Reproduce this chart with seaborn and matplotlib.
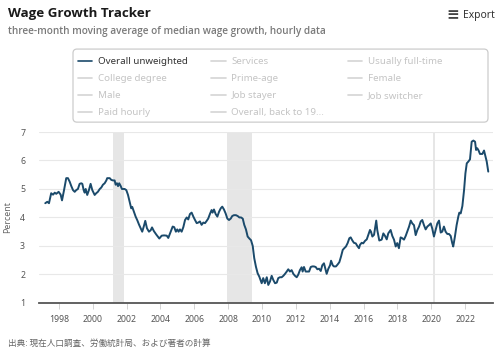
import numpy as np
import pandas as pd
import matplotlib
matplotlib.use("Agg")
import matplotlib.pyplot as plt
from matplotlib.lines import Line2D
from matplotlib.patches import FancyBboxPatch
import seaborn as sns

sns.set_theme(style="white")
plt.rcParams["font.family"] = ["Noto Sans", "DejaVu Sans"]

# three-month moving average of median wage growth (percent)
dates = [
    1997.19, 1997.31, 1997.41, 1997.54, 1997.65, 1997.75, 1997.84, 1997.98,
    1998.10, 1998.18, 1998.30, 1998.43, 1998.53, 1998.63, 1998.73, 1998.83,
    1998.93, 1999.02, 1999.12, 1999.22, 1999.32, 1999.38, 1999.46, 1999.52,
    1999.58, 1999.67, 1999.77, 1999.87, 1999.97, 2000.11, 2000.20, 2000.30,
    2000.41, 2000.50, 2000.60, 2000.70, 2000.80, 2000.85, 2001.00, 2001.09,
    2001.19, 2001.29, 2001.35, 2001.43, 2001.49, 2001.56, 2001.65, 2001.72,
    2001.88, 2001.98, 2002.08, 2002.18, 2002.27, 2002.33, 2002.43, 2002.53,
    2002.63, 2002.73, 2002.83, 2002.92, 2003.02, 2003.10, 2003.20, 2003.32,
    2003.42, 2003.50, 2003.61, 2003.75, 2003.93, 2004.07, 2004.21, 2004.37,
    2004.46, 2004.60, 2004.72, 2004.81, 2004.91, 2004.99, 2005.07, 2005.15,
    2005.25, 2005.35, 2005.45, 2005.55, 2005.64, 2005.74, 2005.84, 2005.94,
    2006.04, 2006.14, 2006.23, 2006.33, 2006.43, 2006.53, 2006.63, 2006.73,
    2006.82, 2006.92, 2007.02, 2007.08, 2007.16, 2007.26, 2007.36, 2007.46,
    2007.56, 2007.65, 2007.75, 2007.85, 2007.95, 2008.05, 2008.15, 2008.24,
    2008.34, 2008.46, 2008.56, 2008.66, 2008.76, 2008.86, 2008.95, 2009.05,
    2009.15, 2009.25, 2009.35, 2009.45, 2009.54, 2009.64, 2009.74, 2009.84,
    2009.98, 2010.07, 2010.17, 2010.28, 2010.37, 2010.47, 2010.57, 2010.67,
    2010.77, 2010.87, 2010.96, 2011.06, 2011.16, 2011.26, 2011.36, 2011.46,
    2011.55, 2011.65, 2011.75, 2011.85, 2011.95, 2012.05, 2012.14, 2012.24,
    2012.34, 2012.40, 2012.48, 2012.58, 2012.67, 2012.78, 2012.88, 2012.97,
    2013.07, 2013.17, 2013.27, 2013.37, 2013.47, 2013.56, 2013.66, 2013.76,
    2013.82, 2013.92, 2014.02, 2014.08, 2014.18, 2014.25, 2014.37, 2014.47,
    2014.57, 2014.67, 2014.77, 2014.86, 2014.96, 2015.06, 2015.16, 2015.24,
    2015.33, 2015.43, 2015.54, 2015.63, 2015.73, 2015.79, 2015.89, 2015.98,
    2016.09, 2016.19, 2016.28, 2016.38, 2016.44, 2016.52, 2016.62, 2016.75,
    2016.81, 2016.93, 2017.07, 2017.17, 2017.27, 2017.37, 2017.46, 2017.60,
    2017.70, 2017.80, 2017.90, 2017.99, 2018.09, 2018.19, 2018.29, 2018.39,
    2018.49, 2018.58, 2018.69, 2018.79, 2018.88, 2018.98, 2019.08, 2019.18,
    2019.28, 2019.38, 2019.47, 2019.57, 2019.67, 2019.77, 2019.87, 2019.97,
    2020.06, 2020.16, 2020.26, 2020.36, 2020.46, 2020.56, 2020.65, 2020.75,
    2020.85, 2020.95, 2021.05, 2021.15, 2021.24, 2021.30, 2021.40, 2021.50,
    2021.60, 2021.66, 2021.74, 2021.84, 2021.94, 2022.02, 2022.10, 2022.19,
    2022.29, 2022.39, 2022.49, 2022.59, 2022.65, 2022.72, 2022.80, 2022.88,
    2023.02, 2023.12, 2023.20, 2023.28, 2023.37,
]
wage_growth = [
    4.50, 4.55, 4.50, 4.85, 4.80, 4.87, 4.83, 4.90,
    4.80, 4.60, 4.96, 5.38, 5.38, 5.26, 5.10, 4.96,
    4.90, 4.96, 5.00, 5.18, 5.20, 5.18, 4.96, 4.87,
    5.00, 4.79, 4.96, 5.18, 4.96, 4.79, 4.85, 4.90,
    5.00, 5.05, 5.15, 5.20, 5.30, 5.38, 5.38, 5.32,
    5.30, 5.30, 5.15, 5.20, 5.10, 5.20, 5.10, 5.00,
    5.00, 4.96, 4.79, 4.55, 4.32, 4.37, 4.20, 4.03,
    3.90, 3.75, 3.62, 3.50, 3.70, 3.88, 3.62, 3.50,
    3.55, 3.65, 3.52, 3.40, 3.26, 3.36, 3.37, 3.36,
    3.28, 3.50, 3.68, 3.66, 3.50, 3.58, 3.50, 3.58,
    3.50, 3.66, 3.91, 4.00, 3.93, 4.12, 4.17, 4.03,
    3.91, 3.80, 3.82, 3.86, 3.74, 3.82, 3.80, 3.88,
    3.96, 4.12, 4.26, 4.17, 4.28, 4.12, 4.03, 4.20,
    4.32, 4.38, 4.28, 4.14, 3.96, 3.91, 3.96, 4.05,
    4.08, 4.08, 4.05, 4.00, 4.00, 3.96, 3.74, 3.58,
    3.33, 3.26, 3.20, 3.00, 2.57, 2.27, 2.04, 1.92,
    1.69, 1.87, 1.69, 1.90, 1.63, 1.75, 1.95, 1.80,
    1.69, 1.71, 1.87, 1.90, 1.90, 1.95, 2.02, 2.10,
    2.18, 2.10, 2.15, 2.02, 1.95, 1.90, 1.99, 2.15,
    2.25, 2.10, 2.26, 2.10, 2.10, 2.10, 2.26, 2.28,
    2.28, 2.26, 2.18, 2.20, 2.12, 2.32, 2.39, 2.15,
    2.02, 2.20, 2.32, 2.48, 2.32, 2.28, 2.28, 2.35,
    2.43, 2.63, 2.86, 2.92, 2.98, 3.10, 3.27, 3.30,
    3.20, 3.11, 3.09, 3.00, 2.92, 3.04, 3.11, 3.09,
    3.18, 3.23, 3.39, 3.56, 3.50, 3.33, 3.39, 3.89,
    3.56, 3.19, 3.22, 3.44, 3.35, 3.23, 3.44, 3.56,
    3.35, 3.22, 2.98, 3.10, 2.92, 3.30, 3.27, 3.22,
    3.35, 3.50, 3.68, 3.89, 3.79, 3.73, 3.38, 3.56,
    3.68, 3.86, 3.91, 3.73, 3.58, 3.68, 3.73, 3.79,
    3.61, 3.33, 3.56, 3.79, 3.89, 3.47, 3.50, 3.68,
    3.50, 3.42, 3.42, 3.35, 3.10, 2.98, 3.33, 3.73,
    4.03, 4.17, 4.14, 4.40, 4.96, 5.55, 5.90, 5.96,
    6.04, 6.66, 6.70, 6.66, 6.37, 6.43, 6.35, 6.23,
    6.23, 6.35, 6.16, 5.96, 5.61,
]

# recessions (shaded)
recession_start = [2001.17, 2007.92, 2020.08]
recession_end = [2001.83, 2009.42, 2020.25]

year_ticks = list(range(1998, 2023, 2))
y_ticks = [1, 2, 3, 4, 5, 6, 7]

legend_labels = ["Overall unweighted", "Services", "Usually full-time",
                 "College degree", "Prime-age", "Female",
                 "Male", "Job stayer", "Job switcher",
                 "Paid hourly", "Overall, back to 19..."]

df = pd.DataFrame({"date": dates, "wage_growth": wage_growth})

line_color = "#1b4a6b"
fig = plt.figure(figsize=(5, 3.53), dpi=100)
ax = fig.add_axes([0.078, 0.142, 0.908, 0.484])

for s, e in zip(recession_start, recession_end):
    ax.axvspan(s, e, color="#e6e6e6", lw=0, zorder=0)

sns.lineplot(data=df, x="date", y="wage_growth", ax=ax, color=line_color,
             lw=1.4, zorder=3)

ax.set_xlim(1996.82, 2023.65)
ax.set_ylim(1, 7)
ax.set_xticks(year_ticks)
ax.set_xticklabels([str(y) for y in year_ticks])
ax.set_yticks(y_ticks)
ax.yaxis.grid(True, color="#e8e8e8", lw=0.8)
ax.set_axisbelow(True)
for side in ["top", "right", "left"]:
    ax.spines[side].set_visible(False)
ax.spines["bottom"].set_color("#555555")
ax.spines["bottom"].set_linewidth(1.3)
ax.tick_params(axis="x", length=4, width=0.6, color="#cccccc",
               labelsize=6.3, labelcolor="#555555", pad=5, bottom=True)
ax.tick_params(axis="y", length=0, labelsize=6.3, labelcolor="#555555", pad=10)
ax.set_xlabel("")
ax.set_ylabel("Percent", fontsize=6.3, color="#666666", labelpad=6)

# legend box drawn separately so it can span the full width
box = FancyBboxPatch((0.146, 0.654), 0.83, 0.207, transform=fig.transFigure,
                     boxstyle="round,pad=0,rounding_size=0.008",
                     mutation_aspect=500 / 353, facecolor="white",
                     edgecolor="#cccccc", lw=0.9, zorder=0)
fig.patches.append(box)

# legend in original reading order (row-wise), reordered for column filling
order = [0, 3, 6, 9, 1, 4, 7, 10, 2, 5, 8]
handles = []
labels = []
for i in order:
    c = line_color if i == 0 else "#d4d4d4"
    handles.append(Line2D([], [], color=c, lw=1.2))
    labels.append(legend_labels[i])
leg = fig.legend(handles, labels, ncol=3, loc="upper left",
                 bbox_to_anchor=(0.146, 0.853), fontsize=7,
                 frameon=False, handlelength=1.45,
                 handletextpad=0.6, columnspacing=2.4, labelspacing=0.82,
                 borderpad=0.55, borderaxespad=0)
for t, i in zip(leg.get_texts(), order):
    t.set_color("#333333" if i == 0 else "#c4c4c4")

fig.text(0.016, 0.963, "Wage Growth Tracker", fontsize=9.6, fontweight="bold",
         color="#1a1a1a", va="center", family=["Open Sans", "DejaVu Sans"])
fig.text(0.016, 0.912, "three-month moving average of median wage growth, hourly data",
         fontsize=7.2, fontweight="semibold", color="#7a7a7a", va="center",
         family=["Open Sans", "DejaVu Sans"])
fig.text(0.893, 0.957, "\u2261", fontsize=11, fontweight="bold",
         color="#444444", va="center")
fig.text(0.926, 0.955, "Export", fontsize=7.4, color="#333333", va="center")
fig.text(0.016, 0.028, "出典: 現在人口調査、労働統計局、および著者の計算",
         fontsize=6.2, color="#666666", va="center",
         family=["Noto Sans CJK JP", "DejaVu Sans"])

fig.savefig("out.png", dpi=100)
